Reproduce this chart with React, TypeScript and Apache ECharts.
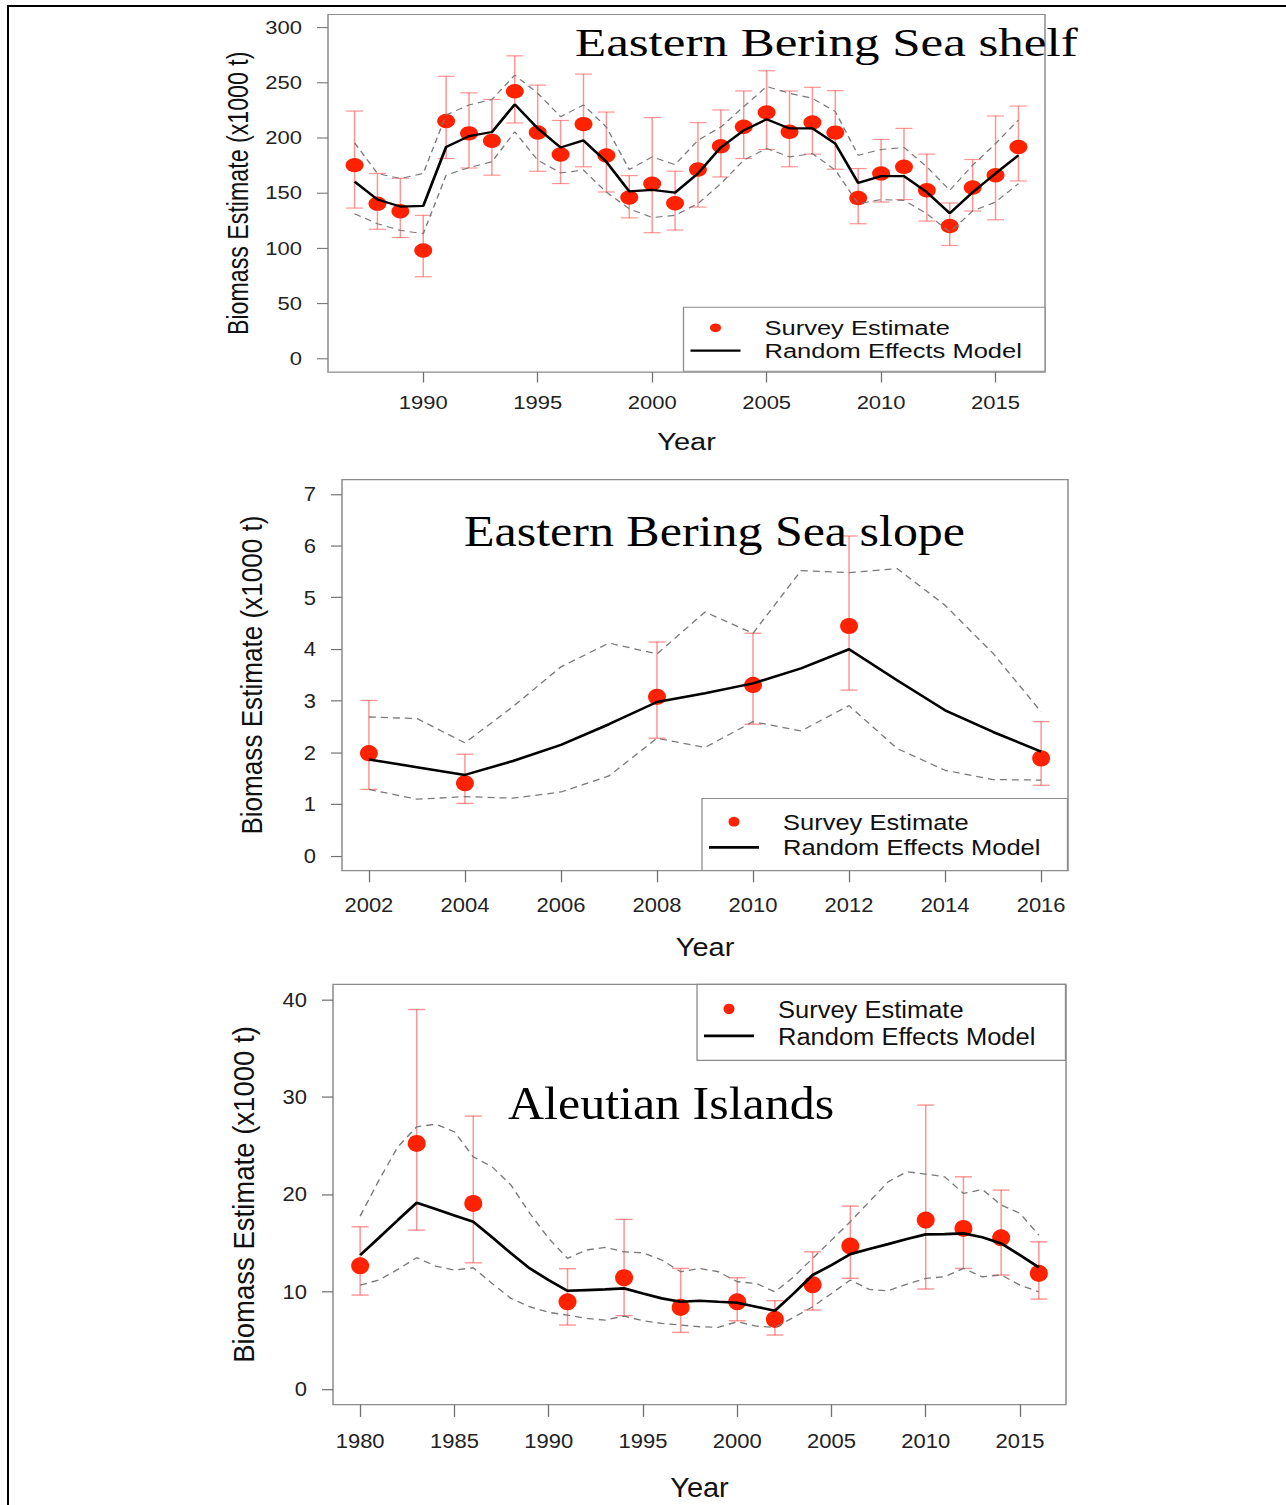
import React, { useEffect, useRef } from "react";
import * as echarts from "echarts";

const SANS = "'Liberation Sans', Arial, Helvetica, sans-serif";
const SERIF = "'Liberation Serif', 'Times New Roman', serif";

// ---------- Eastern Bering Sea shelf ----------
const shelfYears = [1987, 1988, 1989, 1990, 1991, 1992, 1993, 1994, 1995, 1996, 1997, 1998, 1999, 2000, 2001, 2002, 2003, 2004, 2005, 2006, 2007, 2008, 2009, 2010, 2011, 2012, 2013, 2014, 2015, 2016];
const shelfEst = [175.5, 140.6, 133.7, 98.2, 215.5, 204.3, 197.5, 242.4, 205.1, 185.2, 212.7, 184.3, 146.2, 158.7, 141.0, 171.5, 192.7, 210.3, 223.3, 205.7, 214.2, 205.0, 145.7, 168.0, 174.0, 152.7, 120.3, 155.2, 166.4, 192.0];
const shelfLo = [136.6, 117.4, 109.9, 74.4, 181.5, 172.9, 166.4, 213.7, 169.9, 158.8, 174.0, 151.2, 127.7, 114.3, 116.7, 137.5, 164.8, 181.5, 189.7, 174.0, 185.5, 171.8, 122.4, 142.1, 144.3, 124.8, 102.7, 133.9, 126.0, 161.2];
const shelfHi = [224.5, 168.0, 163.6, 130.0, 256.0, 241.0, 235.0, 274.5, 248.0, 216.0, 258.0, 223.6, 166.0, 218.6, 170.0, 214.0, 225.5, 242.7, 261.0, 242.7, 246.0, 243.0, 172.4, 198.8, 208.8, 185.5, 141.2, 180.6, 220.0, 229.0];
const shelfModel = [160.6, 144.3, 138.0, 138.5, 192.0, 201.8, 205.5, 230.6, 208.8, 191.5, 197.9, 178.5, 151.8, 153.0, 150.6, 168.0, 191.5, 207.0, 217.0, 208.8, 208.8, 195.0, 159.4, 165.5, 165.5, 151.0, 132.0, 151.0, 168.0, 184.5];
const shelfUpper = [195.7, 168.0, 163.3, 168.0, 221.0, 230.0, 235.0, 257.0, 240.6, 219.4, 230.0, 210.0, 171.5, 183.0, 176.0, 198.0, 210.0, 228.5, 246.7, 240.6, 236.0, 224.0, 184.5, 189.7, 191.5, 174.0, 152.7, 175.5, 195.0, 216.4];
const shelfLower = [131.5, 122.4, 116.4, 113.3, 166.4, 173.3, 178.5, 205.7, 180.0, 168.5, 171.0, 151.0, 136.0, 128.0, 130.0, 140.6, 158.8, 180.0, 190.6, 183.0, 186.0, 171.0, 140.6, 144.3, 143.6, 131.5, 114.8, 134.0, 142.0, 158.8];
const shelfXTicks = [1990, 1995, 2000, 2005, 2010, 2015];
const shelfYTicks = [0, 50, 100, 150, 200, 250, 300];
const shelfXRange = [1985.84, 2017.16];
const shelfYRange = [-12, 312];

// ---------- Eastern Bering Sea slope ----------
const slopeSurveyYears = [2002, 2004, 2008, 2010, 2012, 2016];
const slopeEst = [1.99, 1.41, 3.08, 3.31, 4.45, 1.89];
const slopeLo = [1.29, 1.02, 2.28, 2.55, 3.21, 1.37];
const slopeHi = [3.01, 1.97, 4.14, 4.31, 6.19, 2.6];
const slopeModelYears = [2002, 2003, 2004, 2005, 2006, 2007, 2008, 2009, 2010, 2011, 2012, 2013, 2014, 2015, 2016];
const slopeModel = [1.87, 1.72, 1.57, 1.84, 2.15, 2.55, 2.98, 3.15, 3.34, 3.63, 4.0, 3.4, 2.82, 2.4, 2.02];
const slopeUpper = [2.69, 2.66, 2.19, 2.89, 3.66, 4.12, 3.91, 4.72, 4.31, 5.52, 5.48, 5.56, 4.85, 3.92, 2.79];
const slopeLower = [1.29, 1.1, 1.15, 1.12, 1.24, 1.55, 2.28, 2.1, 2.6, 2.42, 2.91, 2.08, 1.66, 1.48, 1.47];
const slopeXTicks = [2002, 2004, 2006, 2008, 2010, 2012, 2014, 2016];
const slopeYTicks = [0, 1, 2, 3, 4, 5, 6, 7];
const slopeXRange = [2001.44, 2016.56];
const slopeYRange = [-0.28, 7.28];

// ---------- Aleutian Islands ----------
const aleutSurveyYears = [1980, 1983, 1986, 1991, 1994, 1997, 2000, 2002, 2004, 2006, 2010, 2012, 2014, 2016];
const aleutEst = [12.67, 25.25, 19.08, 8.97, 11.44, 8.39, 8.97, 7.16, 10.72, 14.7, 17.37, 16.51, 15.55, 11.89];
const aleutLo = [9.66, 16.34, 12.98, 6.58, 7.54, 5.82, 7.02, 5.55, 8.12, 11.38, 10.28, 12.4, 11.72, 9.25];
const aleutHi = [16.68, 39.02, 28.06, 12.37, 17.44, 12.4, 11.44, 9.08, 14.11, 18.81, 29.19, 21.82, 20.45, 15.14];
const aleutModelYears = [1980, 1981, 1982, 1983, 1984, 1985, 1986, 1987, 1988, 1989, 1990, 1991, 1992, 1993, 1994, 1995, 1996, 1997, 1998, 1999, 2000, 2001, 2002, 2003, 2004, 2005, 2006, 2007, 2008, 2009, 2010, 2011, 2012, 2013, 2014, 2015, 2016];
const aleutModel = [13.77, 15.55, 17.37, 19.15, 18.5, 17.85, 17.2, 15.6, 13.95, 12.4, 11.2, 10.1, 10.17, 10.24, 10.35, 9.83, 9.32, 8.97, 9.08, 8.97, 8.87, 8.46, 8.05, 9.83, 11.72, 12.74, 13.87, 14.39, 14.9, 15.42, 15.9, 15.93, 16.0, 15.6, 14.97, 13.77, 12.5];
const aleutUpper = [17.78, 21.48, 24.9, 26.96, 27.23, 26.45, 23.87, 22.85, 20.97, 18.06, 15.49, 13.43, 14.29, 14.56, 14.11, 14.0, 13.26, 12.06, 12.4, 12.06, 11.03, 10.86, 10.0, 11.54, 13.43, 15.31, 17.2, 19.25, 21.3, 22.33, 22.1, 21.82, 20.11, 20.52, 18.91, 18.06, 15.83];
const aleutLower = [10.69, 11.2, 12.3, 13.5, 12.64, 12.23, 12.47, 10.86, 9.32, 8.46, 7.88, 7.6, 7.26, 7.09, 7.5, 7.02, 6.75, 6.58, 6.4, 6.34, 6.92, 6.47, 6.34, 7.37, 8.46, 9.83, 11.2, 10.24, 10.1, 10.79, 11.38, 11.54, 12.4, 11.54, 11.72, 10.69, 10.0];
const aleutXTicks = [1980, 1985, 1990, 1995, 2000, 2005, 2010, 2015];
const aleutYTicks = [0, 10, 20, 30, 40];
const aleutXRange = [1978.56, 2017.44];
const aleutYRange = [-1.6, 41.6];

const POINT_COLOR = "#ff2200";
const ERR_COLOR = "rgba(255, 60, 60, 0.55)";
const BOX_COLOR = "#8c8c8c";

const zip = (xs: number[], ys: number[]) => xs.map((x, i) => [x, ys[i]]);

function makeOption(cfg: any) {
  const errData = cfg.surveyYears.map((y: number, i: number) => [y, cfg.lo[i], cfg.hi[i]]);
  const tickLabelStyle = { fontFamily: SANS, fontSize: 22, color: "#222" };
  const nameStyle = { fontFamily: SANS, fontSize: 29, color: "#111" };
  return {
    animation: false,
    title: {
      text: cfg.title,
      left: cfg.titleLeft,
      top: cfg.titleTop,
      padding: 0,
      textStyle: { fontFamily: SERIF, fontSize: cfg.titleSize, fontWeight: "normal", color: "#000" },
    },
    legend: {
      orient: "vertical",
      left: cfg.legendLeft,
      top: cfg.legendTop,
      data: [
        { name: "Survey Estimate", icon: "circle" },
        { name: "Random Effects Model", icon: "path://M0,0H50V3H0Z" },
      ],
      itemWidth: 50,
      itemHeight: 11,
      itemGap: 0,
      padding: [11.5, cfg.legendPadRight, 11.5, 7],
      borderColor: BOX_COLOR,
      borderWidth: 1.3,
      borderRadius: 0,
      backgroundColor: "#fff",
      selectedMode: false,
      textStyle: { fontFamily: SANS, fontSize: 25.5, lineHeight: 28.5, color: "#111", padding: [0, 0, 0, 19] },
    },
    grid: {
      left: cfg.grid.left,
      top: cfg.grid.top,
      width: cfg.grid.width,
      height: cfg.grid.height,
      show: true,
      borderColor: BOX_COLOR,
      borderWidth: 1.5,
      backgroundColor: "transparent",
      containLabel: false,
      outerBoundsMode: "none",
    },
    xAxis: {
      type: "value",
      min: cfg.xRange[0],
      max: cfg.xRange[1],
      name: "Year",
      nameLocation: "middle",
      nameGap: cfg.xNameGap,
      nameTextStyle: nameStyle,
      axisLine: { show: false, onZero: false },
      splitLine: { show: false },
      axisTick: { show: true, customValues: cfg.xTicks, length: 13, lineStyle: { color: "#707070", width: 1.3 } },
      axisLabel: { customValues: cfg.xTicks, formatter: (v: number) => String(v), margin: 27.5, ...tickLabelStyle },
    },
    yAxis: {
      type: "value",
      min: cfg.yRange[0],
      max: cfg.yRange[1],
      name: "Biomass Estimate (x1000 t)",
      nameLocation: "middle",
      nameRotate: 90,
      nameGap: 75,
      nameTextStyle: nameStyle,
      axisLine: { show: false, onZero: false },
      splitLine: { show: false },
      axisTick: { show: true, customValues: cfg.yTicks, length: 11, lineStyle: { color: "#707070", width: 1.3 } },
      axisLabel: { customValues: cfg.yTicks, formatter: (v: number) => String(v), margin: 26, ...tickLabelStyle },
    },
    series: [
      {
        type: "custom",
        name: "Survey CI",
        silent: true,
        z: 1,
        data: errData,
        encode: { x: 0, y: [1, 2] },
        renderItem: (params: any, api: any) => {
          const x = api.value(0);
          const top = api.coord([x, api.value(2)]);
          const bot = api.coord([x, api.value(1)]);
          const hw = 8.5;
          const style = { stroke: ERR_COLOR, lineWidth: 1.5, fill: "none" };
          return {
            type: "group",
            children: [
              { type: "line", shape: { x1: top[0], y1: top[1], x2: bot[0], y2: bot[1] }, style },
              { type: "line", shape: { x1: top[0] - hw, y1: top[1], x2: top[0] + hw, y2: top[1] }, style },
              { type: "line", shape: { x1: bot[0] - hw, y1: bot[1], x2: bot[0] + hw, y2: bot[1] }, style },
            ],
          };
        },
      },
      {
        type: "scatter",
        name: "Survey Estimate",
        z: 2,
        data: zip(cfg.surveyYears, cfg.est),
        symbol: "circle",
        symbolSize: 18,
        itemStyle: { color: POINT_COLOR, opacity: 1 },
      },
      {
        type: "line",
        name: "Upper",
        z: 3,
        data: zip(cfg.modelYears, cfg.upper),
        symbol: "none",
        silent: true,
        lineStyle: { color: "#7a7a7a", width: 1.4, type: [7, 5] },
      },
      {
        type: "line",
        name: "Lower",
        z: 3,
        data: zip(cfg.modelYears, cfg.lower),
        symbol: "none",
        silent: true,
        lineStyle: { color: "#7a7a7a", width: 1.4, type: [7, 5] },
      },
      {
        type: "line",
        name: "Random Effects Model",
        z: 4,
        data: zip(cfg.modelYears, cfg.model),
        symbol: "none",
        color: "#000",
        itemStyle: { color: "#000" },
        lineStyle: { color: "#000", width: 2.8 },
      },
    ],
  };
}

const panels = [
  {
    key: "shelf",
    top: 0,
    scale: 0.8,
    height: 587,
    option: makeOption({
      title: "Eastern Bering Sea shelf",
      titleSize: 51,
      titleLeft: 575,
      titleTop: 27.5,
      legendLeft: 683.5,
      legendTop: 384,
      legendPadRight: 23,
      xNameGap: 73.5,
      grid: { left: 328, top: 18.1, width: 717, height: 447 },
      xRange: shelfXRange,
      yRange: shelfYRange,
      xTicks: shelfXTicks,
      yTicks: shelfYTicks,
      surveyYears: shelfYears,
      est: shelfEst,
      lo: shelfLo,
      hi: shelfHi,
      modelYears: shelfYears,
      model: shelfModel,
      upper: shelfUpper,
      lower: shelfLower,
    }),
  },
  {
    key: "slope",
    top: 470,
    scale: 0.9,
    height: 561,
    option: makeOption({
      title: "Eastern Bering Sea slope",
      titleSize: 50,
      titleLeft: 464,
      titleTop: 43,
      legendLeft: 702,
      legendTop: 365,
      legendPadRight: 27,
      xNameGap: 70,
      grid: { left: 342, top: 10.7, width: 726, height: 434.4 },
      xRange: slopeXRange,
      yRange: slopeYRange,
      xTicks: slopeXTicks,
      yTicks: slopeYTicks,
      surveyYears: slopeSurveyYears,
      est: slopeEst,
      lo: slopeLo,
      hi: slopeHi,
      modelYears: slopeModelYears,
      model: slopeModel,
      upper: slopeUpper,
      lower: slopeLower,
    }),
  },
  {
    key: "aleut",
    top: 975,
    scale: 0.95,
    height: 557,
    option: makeOption({
      title: "Aleutian Islands",
      titleSize: 50,
      titleLeft: 508,
      titleTop: 110,
      legendLeft: 697,
      legendTop: 9.9,
      legendPadRight: 30,
      xNameGap: 73,
      grid: { left: 333, top: 9.9, width: 733, height: 442.3 },
      xRange: aleutXRange,
      yRange: aleutYRange,
      xTicks: aleutXTicks,
      yTicks: aleutYTicks,
      surveyYears: aleutSurveyYears,
      est: aleutEst,
      lo: aleutLo,
      hi: aleutHi,
      modelYears: aleutModelYears,
      model: aleutModel,
      upper: aleutUpper,
      lower: aleutLower,
    }),
  },
];

function Panel({ top, scale, height, option }: any) {
  const ref = useRef<HTMLDivElement>(null);
  useEffect(() => {
    if (!ref.current) return;
    const chart = echarts.init(ref.current, null, { renderer: "svg" });
    chart.setOption(option);
    return () => chart.dispose();
  }, [option]);
  return (
    <div
      style={{
        position: "absolute",
        left: 0,
        top,
        width: 1286,
        height,
        transform: `scaleY(${scale})`,
        transformOrigin: "0 0",
      }}
    >
      <div ref={ref} style={{ width: 1286, height }} />
    </div>
  );
}

export default function App() {
  return (
    <div
      style={{
        position: "absolute",
        left: 0,
        top: 0,
        width: 1286,
        height: 1505,
        overflow: "hidden",
        background: "#fff",
      }}
    >
      <div
        style={{
          position: "absolute",
          left: 7,
          top: 4.5,
          width: 1279,
          height: 1500,
          borderLeft: "2px solid #000",
          borderTop: "2px solid #000",
          boxSizing: "border-box",
        }}
      />
      {panels.map((p) => (
        <Panel key={p.key} top={p.top} scale={p.scale} height={p.height} option={p.option} />
      ))}
    </div>
  );
}
